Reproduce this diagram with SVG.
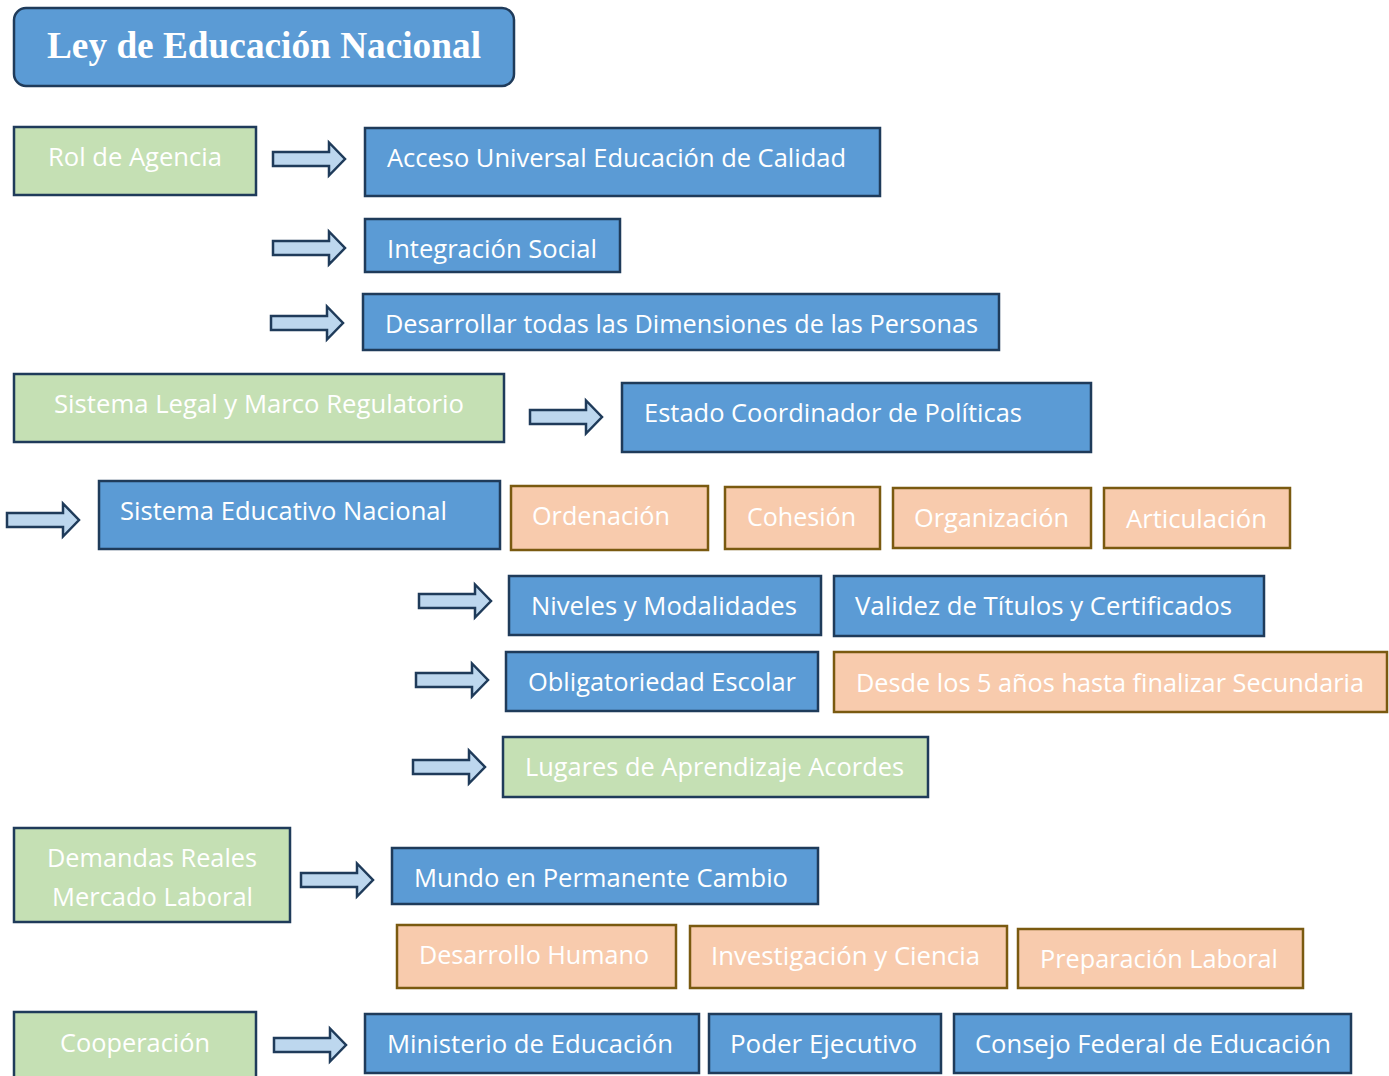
<svg xmlns="http://www.w3.org/2000/svg" width="1389" height="1076" viewBox="0 0 1389 1076">
<style>
.b{fill:#5b9bd5;stroke:#1f3b5a;stroke-width:2.5}
.g{fill:#c5e0b4;stroke:#1f3b5a;stroke-width:2.5}
.o{fill:#f8cbad;stroke:#7a5a10;stroke-width:2.5}
.t{font-family:"Open Sans","Noto Sans","DejaVu Sans",sans-serif;font-size:26px;fill:#ffffff}
.h{font-family:"Liberation Serif","Times New Roman",serif;font-weight:bold;font-size:37px;fill:#ffffff}
.a{fill:#bdd7ee;stroke:#1f3b5a;stroke-width:2.5;stroke-linejoin:miter}
</style>
<defs>
<path id="arr" class="a" d="M0,-7 H56 V-16.5 L72,0 L56,16.5 V7 H0 Z"/>
</defs>
<rect width="1389" height="1076" fill="#ffffff"/>
<g id="title">
<rect x="14" y="8" width="500" height="78" rx="12" ry="12" class="b"/>
<text x="47" y="58" class="h" textLength="434" lengthAdjust="spacingAndGlyphs">Ley de Educación Nacional</text>
</g>
<g id="connectors">
<use href="#arr" x="273" y="159"/>
<use href="#arr" x="273" y="248"/>
<use href="#arr" x="271" y="323"/>
<use href="#arr" x="530" y="417"/>
<use href="#arr" x="7" y="520"/>
<use href="#arr" x="419" y="601"/>
<use href="#arr" x="416" y="680"/>
<use href="#arr" x="413" y="767"/>
<use href="#arr" x="301" y="880"/>
<use href="#arr" x="274" y="1045"/>
</g>
<g id="rol"><rect x="14" y="127" width="242" height="68" class="g"/><text x="48" y="166" class="t" textLength="174" lengthAdjust="spacingAndGlyphs">Rol de Agencia</text></g>
<g id="acceso"><rect x="365" y="128" width="515" height="68" class="b"/><text x="387" y="167" class="t" textLength="459" lengthAdjust="spacingAndGlyphs">Acceso Universal Educación de Calidad</text></g>
<g id="integracion"><rect x="365" y="219" width="255" height="53" class="b"/><text x="387" y="258" class="t" textLength="210" lengthAdjust="spacingAndGlyphs">Integración Social</text></g>
<g id="desarrollar"><rect x="363" y="294" width="636" height="56" class="b"/><text x="385" y="333" class="t" textLength="593" lengthAdjust="spacingAndGlyphs">Desarrollar todas las Dimensiones de las Personas</text></g>
<g id="sistemaLegal"><rect x="14" y="374" width="490" height="68" class="g"/><text x="54" y="413" class="t" textLength="410" lengthAdjust="spacingAndGlyphs">Sistema Legal y Marco Regulatorio</text></g>
<g id="estado"><rect x="622" y="383" width="469" height="69" class="b"/><text x="644" y="422" class="t" textLength="378" lengthAdjust="spacingAndGlyphs">Estado Coordinador de Políticas</text></g>
<g id="sistemaEducativo"><rect x="99" y="481" width="401" height="68" class="b"/><text x="120" y="520" class="t" textLength="327" lengthAdjust="spacingAndGlyphs">Sistema Educativo Nacional</text></g>
<g id="ordenacion"><rect x="511" y="486" width="197" height="64" class="o"/><text x="532" y="525" class="t" textLength="138" lengthAdjust="spacingAndGlyphs">Ordenación</text></g>
<g id="cohesion"><rect x="725" y="487" width="155" height="62" class="o"/><text x="747" y="526" class="t" textLength="109" lengthAdjust="spacingAndGlyphs">Cohesión</text></g>
<g id="organizacion"><rect x="893" y="488" width="198" height="60" class="o"/><text x="914" y="527" class="t" textLength="155" lengthAdjust="spacingAndGlyphs">Organización</text></g>
<g id="articulacion"><rect x="1104" y="488" width="186" height="60" class="o"/><text x="1126" y="528" class="t" textLength="141" lengthAdjust="spacingAndGlyphs">Articulación</text></g>
<g id="niveles"><rect x="509" y="576" width="312" height="59" class="b"/><text x="531" y="615" class="t" textLength="266" lengthAdjust="spacingAndGlyphs">Niveles y Modalidades</text></g>
<g id="validez"><rect x="834" y="576" width="430" height="60" class="b"/><text x="855" y="615" class="t" textLength="377" lengthAdjust="spacingAndGlyphs">Validez de Títulos y Certificados</text></g>
<g id="obligatoriedad"><rect x="506" y="652" width="312" height="59" class="b"/><text x="528" y="691" class="t" textLength="268" lengthAdjust="spacingAndGlyphs">Obligatoriedad Escolar</text></g>
<g id="desde"><rect x="834" y="652" width="553" height="60" class="o"/><text x="856" y="692" class="t" textLength="508" lengthAdjust="spacingAndGlyphs">Desde los 5 años hasta finalizar Secundaria</text></g>
<g id="lugares"><rect x="503" y="737" width="425" height="60" class="g"/><text x="525" y="776" class="t" textLength="379" lengthAdjust="spacingAndGlyphs">Lugares de Aprendizaje Acordes</text></g>
<g id="demandas"><rect x="14" y="828" width="276" height="94" class="g"/><text x="47" y="867" class="t" textLength="210" lengthAdjust="spacingAndGlyphs">Demandas Reales</text><text x="52" y="906" class="t" textLength="201" lengthAdjust="spacingAndGlyphs">Mercado Laboral</text></g>
<g id="mundo"><rect x="392" y="848" width="426" height="56" class="b"/><text x="414" y="887" class="t" textLength="374" lengthAdjust="spacingAndGlyphs">Mundo en Permanente Cambio</text></g>
<g id="desarrolloHumano"><rect x="397" y="925" width="279" height="63" class="o"/><text x="419" y="964" class="t" textLength="230" lengthAdjust="spacingAndGlyphs">Desarrollo Humano</text></g>
<g id="investigacion"><rect x="690" y="926" width="317" height="62" class="o"/><text x="711" y="965" class="t" textLength="269" lengthAdjust="spacingAndGlyphs">Investigación y Ciencia</text></g>
<g id="preparacion"><rect x="1018" y="929" width="285" height="59" class="o"/><text x="1040" y="968" class="t" textLength="238" lengthAdjust="spacingAndGlyphs">Preparación Laboral</text></g>
<g id="cooperacion"><rect x="14" y="1012" width="242" height="70" class="g"/><text x="60" y="1052" class="t" textLength="150" lengthAdjust="spacingAndGlyphs">Cooperación</text></g>
<g id="ministerio"><rect x="365" y="1014" width="334" height="59" class="b"/><text x="387" y="1053" class="t" textLength="286" lengthAdjust="spacingAndGlyphs">Ministerio de Educación</text></g>
<g id="poder"><rect x="709" y="1014" width="232" height="59" class="b"/><text x="730" y="1053" class="t" textLength="187" lengthAdjust="spacingAndGlyphs">Poder Ejecutivo</text></g>
<g id="consejo"><rect x="954" y="1014" width="397" height="59" class="b"/><text x="975" y="1053" class="t" textLength="356" lengthAdjust="spacingAndGlyphs">Consejo Federal de Educación</text></g>
</svg>
